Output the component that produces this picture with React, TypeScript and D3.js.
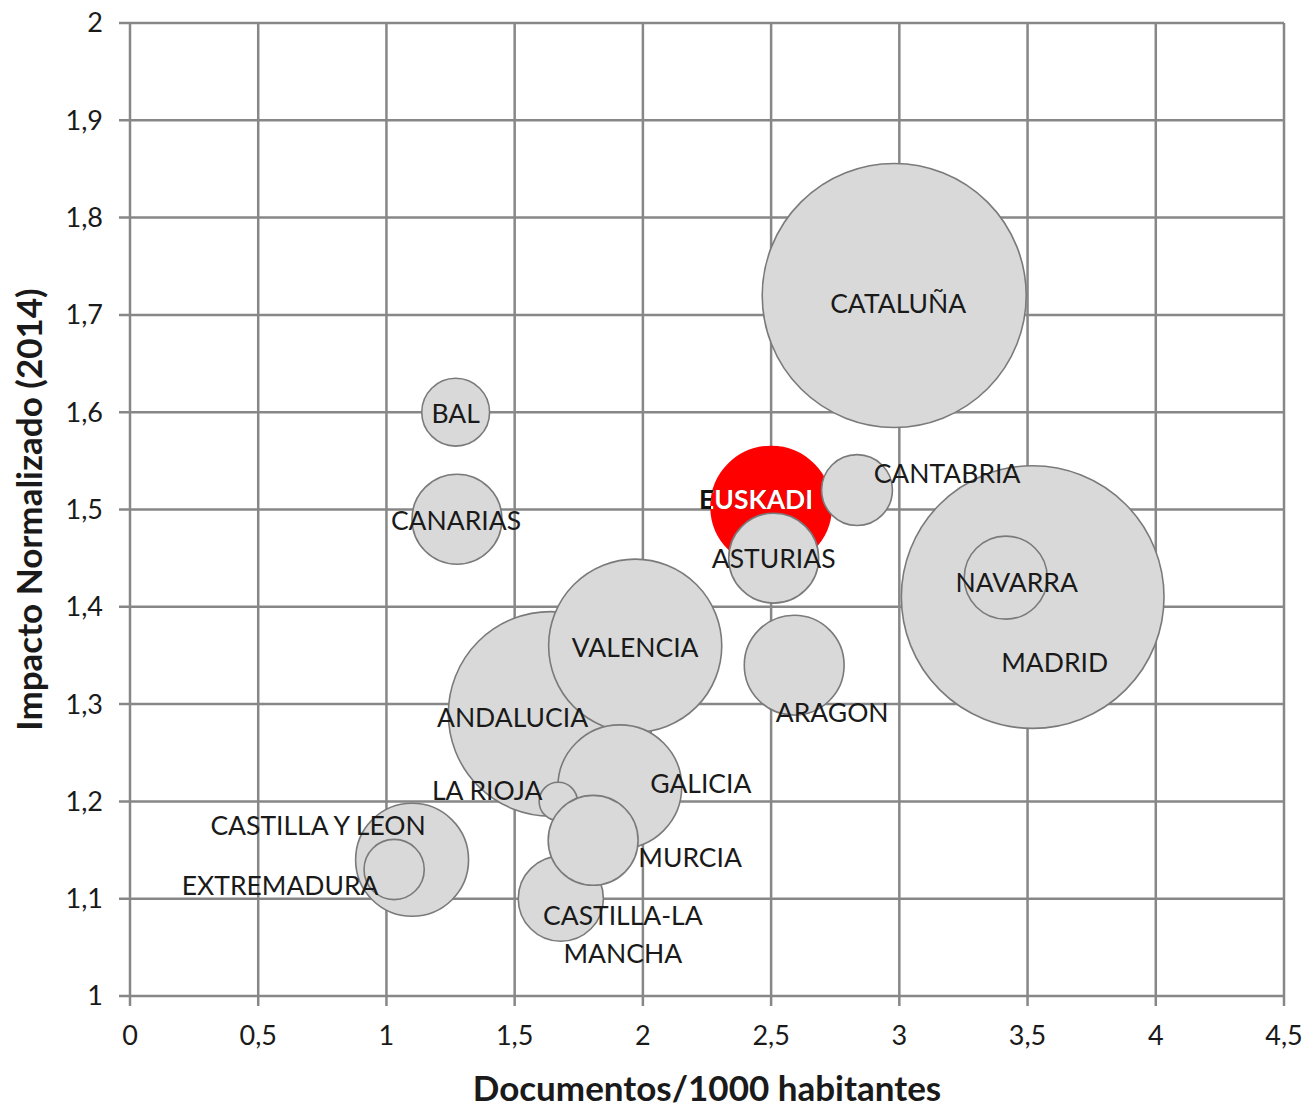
import React from 'react';
import * as d3 from 'd3';

// datos de las comunidades (orden de dibujo)
const regions = [
  'CATALUÑA', 'MADRID', 'ANDALUCIA', 'VALENCIA', 'GALICIA', 'CASTILLA Y LEON',
  'EUSKADI', 'ARAGON', 'CANARIAS', 'CASTILLA-LA MANCHA', 'ASTURIAS', 'LA RIOJA',
  'MURCIA', 'NAVARRA', 'CANTABRIA', 'BAL', 'EXTREMADURA',
];
const docsPer1000 = [2.98, 3.52, 1.64, 1.97, 1.91, 1.1, 2.5, 2.59, 1.275, 1.68, 2.51, 1.67, 1.806, 3.415, 2.835, 1.27, 1.03];
const impact = [1.72, 1.41, 1.29, 1.36, 1.215, 1.14, 1.503, 1.34, 1.49, 1.1, 1.45, 1.2, 1.16, 1.43, 1.52, 1.6, 1.13];
const bubbleSize = [100, 99, 60, 43, 22, 18.3, 20.7, 14.3, 11.6, 10.4, 11.6, 2.1, 11.6, 9.9, 7.2, 6.6, 5.2];

const xTicks = [0, 0.5, 1, 1.5, 2, 2.5, 3, 3.5, 4, 4.5];
const yTicks = [1, 1.1, 1.2, 1.3, 1.4, 1.5, 1.6, 1.7, 1.8, 1.9, 2];

// posicion de las etiquetas respecto al centro de la burbuja (px)
const labelOffset: Record<string, [number, number]> = {
  'CATALUÑA': [4, 18],
  'MADRID': [22, 75],
  'ANDALUCIA': [-38, 13],
  'VALENCIA': [0, 11],
  'GALICIA': [81, 6],
  'CASTILLA Y LEON': [-94, -25],
  'EUSKADI': [-15, 2],
  'ARAGON': [38, 57],
  'CANARIAS': [-1, 11],
  'CASTILLA-LA MANCHA': [62, 26],
  'ASTURIAS': [0, 10],
  'LA RIOJA': [-71, -1],
  'MURCIA': [97, 27],
  'NAVARRA': [11, 14],
  'CANTABRIA': [90, -7],
  'BAL': [0, 11],
  'EXTREMADURA': [-114, 25],
};

const fmt = (v: number) => String(v).replace('.', ',');

export default function App() {
  const width = 1306;
  const height = 1107;
  const margin = { top: 23, right: 22, bottom: 111, left: 130 };

  const x = d3.scaleLinear().domain([0, 4.5]).range([margin.left, width - margin.right]);
  const y = d3.scaleLinear().domain([1, 2]).range([height - margin.bottom, margin.top]);
  const r = d3.scaleSqrt().domain([0, 100]).range([0, 132]);

  const font = 'Lato, Carlito, Calibri, sans-serif';
  const gridColor = '#878787';
  const labelSize = 26.5;
  const euskadiIdx = regions.indexOf('EUSKADI');

  return (
    <svg width={width} height={height} style={{ position: 'absolute', left: 0, top: 0, background: '#fff' }}>
      <defs>
        <clipPath id="euskadi-clip">
          <circle cx={x(docsPer1000[euskadiIdx])} cy={y(impact[euskadiIdx])} r={r(bubbleSize[euskadiIdx])} />
        </clipPath>
      </defs>

      {/* rejilla */}
      {xTicks.map(t => (
        <line key={'gx' + t} x1={x(t)} x2={x(t)} y1={y(2)} y2={y(1) + 10} stroke={gridColor} strokeWidth={2.5} />
      ))}
      {yTicks.map(t => (
        <line key={'gy' + t} x1={x(0) - 11} x2={x(4.5)} y1={y(t)} y2={y(t)} stroke={gridColor} strokeWidth={2.5} />
      ))}

      {/* burbujas */}
      {regions.map((name, i) => (
        <circle
          key={name}
          cx={x(docsPer1000[i])}
          cy={y(impact[i])}
          r={r(bubbleSize[i])}
          fill={name === 'EUSKADI' ? '#ff0000' : '#d9d9d9'}
          stroke={name === 'EUSKADI' ? '#ff0000' : '#7a7a7a'}
          strokeWidth={1.6}
        />
      ))}

      {/* etiquetas */}
      {regions.map((name, i) => {
        const [dx, dy] = labelOffset[name];
        const cx = x(docsPer1000[i]) + dx;
        const cy = y(impact[i]) + dy;
        if (name === 'CASTILLA-LA MANCHA') {
          return (
            <text key={'l' + name} x={cx} y={cy} textAnchor="middle" fontFamily={font} fontSize={labelSize} fill="#1a1a1a">
              <tspan x={cx} y={cy}>CASTILLA-LA</tspan>
              <tspan x={cx} y={cy + 38}>MANCHA</tspan>
            </text>
          );
        }
        if (name === 'EUSKADI') {
          return (
            <g key={'l' + name}>
              <text x={cx} y={cy} textAnchor="middle" fontFamily={font} fontSize={labelSize} fontWeight="bold" fill="#111">{name}</text>
              <text x={cx} y={cy} textAnchor="middle" fontFamily={font} fontSize={labelSize} fontWeight="bold" fill="#fff" clipPath="url(#euskadi-clip)">{name}</text>
            </g>
          );
        }
        return (
          <text key={'l' + name} x={cx} y={cy} textAnchor="middle" fontFamily={font} fontSize={labelSize} fill="#1a1a1a">{name}</text>
        );
      })}

      {/* ejes */}
      {yTicks.map(t => (
        <text key={'ty' + t} x={x(0) - 27} y={y(t)} dy="0.35em" textAnchor="end" fontFamily={font} fontSize={27} fill="#1a1a1a">{fmt(t)}</text>
      ))}
      {xTicks.map(t => (
        <text key={'tx' + t} x={x(t)} y={y(1) + 40} dy="0.35em" textAnchor="middle" fontFamily={font} fontSize={27} fill="#1a1a1a">{fmt(t)}</text>
      ))}
      <text x={(x(0) + x(4.5)) / 2} y={height - 6} textAnchor="middle" fontFamily={font} fontSize={35} fontWeight="bold" fill="#1a1a1a">Documentos/1000 habitantes</text>
      <text transform={`translate(42,${(y(1) + y(2)) / 2}) rotate(-90)`} textAnchor="middle" fontFamily={font} fontSize={35} fontWeight="bold" fill="#1a1a1a">Impacto Normalizado (2014)</text>
    </svg>
  );
}
